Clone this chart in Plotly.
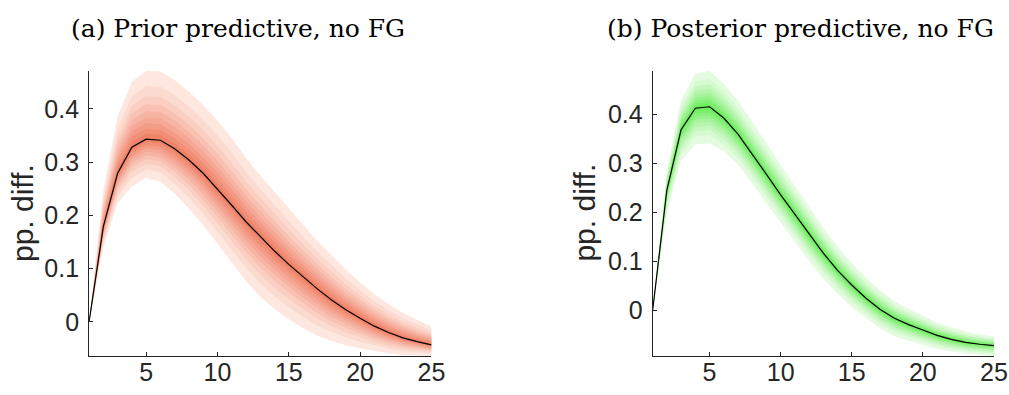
import plotly.graph_objects as go

# Horizon (quarters)
horizon = list(range(1, 26))

# (a) Prior predictive, no FG
prior_median = [0, 0.179, 0.279, 0.328, 0.343, 0.341, 0.325, 0.304, 0.279, 0.250, 0.219, 0.188, 0.160,
                0.133, 0.108, 0.085, 0.062, 0.041, 0.023, 0.007, -0.008, -0.020, -0.030, -0.037, -0.043]
prior_upper = [0, 0.248, 0.386, 0.451, 0.471, 0.470, 0.454, 0.432, 0.407, 0.378, 0.345, 0.308, 0.275,
               0.244, 0.212, 0.181, 0.152, 0.125, 0.098, 0.074, 0.052, 0.033, 0.017, 0.004, -0.008]
prior_lower = [0, 0.140, 0.223, 0.254, 0.270, 0.263, 0.241, 0.213, 0.182, 0.148, 0.112, 0.077, 0.047,
               0.024, 0.005, -0.012, -0.026, -0.036, -0.044, -0.050, -0.055, -0.059, -0.062, -0.063, -0.064]

# (b) Posterior predictive, no FG
post_median = [0, 0.246, 0.369, 0.413, 0.416, 0.393, 0.360, 0.320, 0.278, 0.236, 0.196, 0.155, 0.117,
               0.082, 0.052, 0.025, 0.002, -0.016, -0.029, -0.040, -0.051, -0.059, -0.065, -0.069, -0.072]
post_upper = [0, 0.286, 0.429, 0.483, 0.489, 0.463, 0.428, 0.386, 0.342, 0.297, 0.254, 0.210, 0.169,
              0.130, 0.097, 0.067, 0.041, 0.019, 0.003, -0.011, -0.025, -0.035, -0.043, -0.049, -0.053]
post_lower = [0, 0.201, 0.306, 0.339, 0.341, 0.325, 0.298, 0.260, 0.219, 0.178, 0.140, 0.101, 0.065,
              0.034, 0.007, -0.015, -0.037, -0.052, -0.062, -0.070, -0.078, -0.084, -0.088, -0.091, -0.093]

# relative width of each nested percentile band (outer 5-95 ... inner 45-55)
band_frac = [1.0, 0.779, 0.630, 0.512, 0.410, 0.319, 0.234, 0.154, 0.076]

titles = ["(a) Prior predictive, no FG", "(b) Posterior predictive, no FG"]
y_ticks = [0, 0.1, 0.2, 0.3, 0.4]
y_tick_text = ["0", "0.1", "0.2", "0.3", "0.4"]
x_ticks = [5, 10, 15, 20, 25]

# the capture maps ~1024 page px onto 1009 picture px horizontally
XS = 1009 / 1024
W, H = 1024, 395
AX = "#262626"
FONT = "Liberation Sans, Arial, sans-serif"
TICK_SIZE = 25


def fx(px):
    return (px / XS) / W


def fy(py_):
    return 1 - py_ / H


panels = [
    dict(med=prior_median, up=prior_upper, lo=prior_lower,
         light=(253, 231, 223), dark=(240, 130, 104),
         px=(89, 431), title_x=238, ylab_x=22),
    dict(med=post_median, up=post_upper, lo=post_lower,
         light=(228, 251, 224), dark=(108, 236, 92),
         px=(652, 993), title_x=800, ylab_x=583),
]
py = (71, 356)

fig = go.Figure()
layout = dict(width=W, height=H, margin=dict(l=0, r=0, t=0, b=0),
              paper_bgcolor="white", plot_bgcolor="white", showlegend=False,
              font=dict(family=FONT, size=TICK_SIZE, color=AX), annotations=[])

for p_i, p in enumerate(panels):
    xa = "x" if p_i == 0 else "x2"
    ya = "y" if p_i == 0 else "y2"
    n = len(band_frac)
    for k, f in enumerate(band_frac):
        t = k / (n - 1)
        col = tuple(round(p["light"][c] + t * (p["dark"][c] - p["light"][c])) for c in range(3))
        hi = [m + f * (u - m) for m, u in zip(p["med"], p["up"])]
        lo = [m + f * (l - m) for m, l in zip(p["med"], p["lo"])]
        fig.add_trace(go.Scatter(x=horizon + horizon[::-1], y=hi + lo[::-1], fill="toself",
                                 fillcolor="rgb(%d,%d,%d)" % col, line=dict(width=0),
                                 mode="lines", hoverinfo="skip", xaxis=xa, yaxis=ya))
    fig.add_trace(go.Scatter(x=horizon, y=p["med"], mode="lines",
                             line=dict(color="black", width=1.2), xaxis=xa, yaxis=ya))

    ymin = min(p["lo"])
    ymax = max(p["up"])
    sfx = "" if p_i == 0 else "2"
    layout["xaxis" + sfx] = dict(domain=[fx(p["px"][0]), fx(p["px"][1])], range=[1, 25],
                                 anchor="y" + sfx, tickvals=x_ticks, ticks="inside", ticklen=4,
                                 tickcolor=AX, showline=True, linecolor=AX, linewidth=1,
                                 showgrid=False, zeroline=False, ticklabelstandoff=-6,
                                 tickfont=dict(size=TICK_SIZE, color=AX))
    layout["yaxis" + sfx] = dict(domain=[fy(py[1]), fy(py[0])], range=[ymin, ymax],
                                 anchor="x" + sfx, tickvals=y_ticks, ticktext=y_tick_text,
                                 ticks="inside", ticklen=4, tickcolor=AX, showline=True,
                                 linecolor=AX, linewidth=1, showgrid=False, zeroline=False,
                                 ticklabelstandoff=4, tickfont=dict(size=TICK_SIZE, color=AX))
    layout["annotations"].append(dict(text=titles[p_i], x=fx(p["title_x"]), y=fy(28),
                                      xref="paper", yref="paper", showarrow=False,
                                      xanchor="center", yanchor="middle",
                                      font=dict(family="DejaVu Serif, serif", size=25, color="black")))
    layout["annotations"].append(dict(text="pp. diff.", x=fx(p["ylab_x"]), y=fy(213),
                                      xref="paper", yref="paper", showarrow=False, textangle=-90,
                                      xanchor="center", yanchor="middle",
                                      font=dict(family=FONT, size=30, color=AX)))

fig.update_layout(**layout)
# remove the default page margin so the figure fills the window exactly
fig.write_html("out.html", config={"displayModeBar": False},
               post_script="document.body.style.margin='0';"
                           "document.documentElement.style.overflow='hidden';"
                           "document.body.style.overflow='hidden';")
